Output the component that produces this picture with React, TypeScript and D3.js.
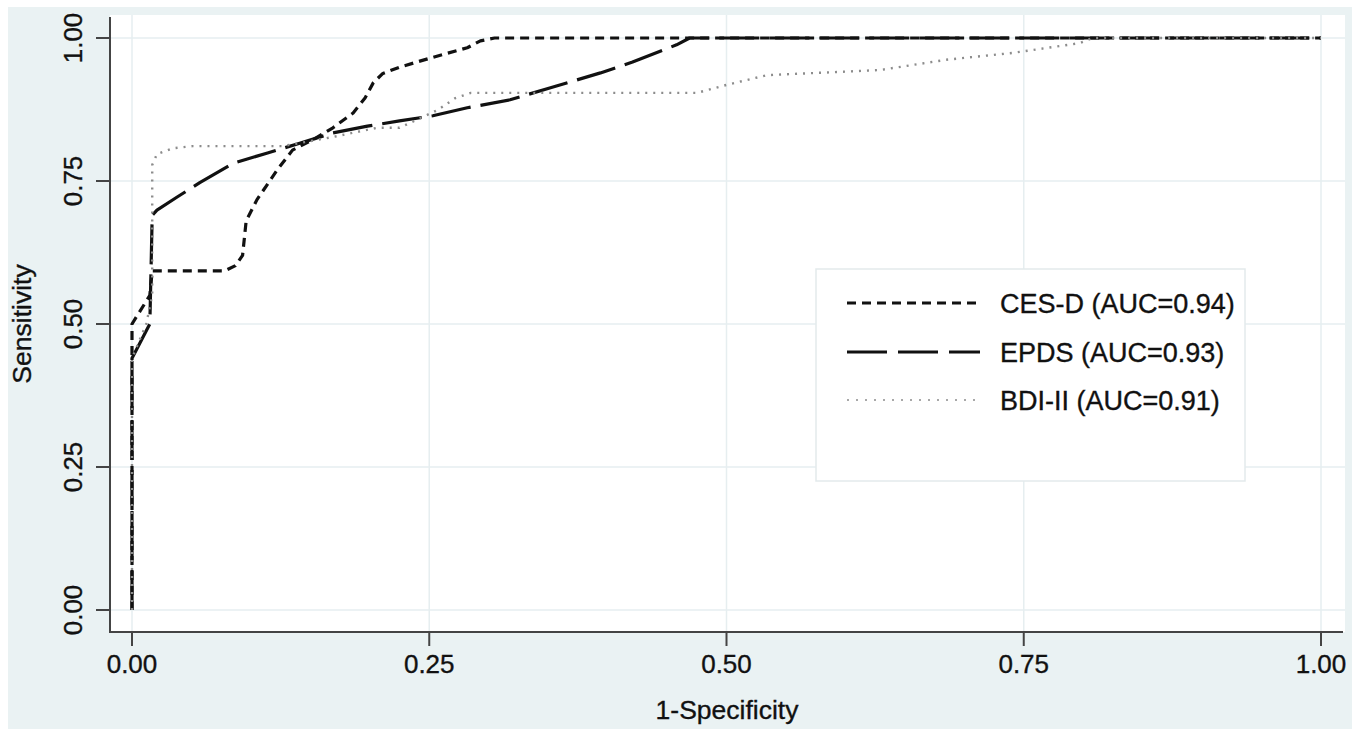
import React from "react";
import * as d3 from "d3";

// ROC curves: [1-specificity, sensitivity]
const cesdPoints: [number, number][] = [
  [0, 0], [0, 0.5], [0.015, 0.55], [0.017, 0.593], [0.078, 0.593], [0.087, 0.602],
  [0.093, 0.62], [0.096, 0.68], [0.105, 0.717], [0.122, 0.769], [0.135, 0.804],
  [0.152, 0.822], [0.169, 0.843], [0.186, 0.869], [0.196, 0.895], [0.203, 0.922],
  [0.211, 0.938], [0.225, 0.949], [0.251, 0.965], [0.282, 0.983], [0.293, 0.995],
  [0.305, 1.0], [1, 1],
];

const epdsPoints: [number, number][] = [
  [0, 0], [0, 0.44], [0.015, 0.5], [0.017, 0.69], [0.021, 0.699], [0.038, 0.722],
  [0.057, 0.747], [0.085, 0.781], [0.114, 0.799], [0.141, 0.816], [0.169, 0.834],
  [0.198, 0.846], [0.225, 0.855], [0.253, 0.864], [0.282, 0.878], [0.318, 0.892],
  [0.352, 0.913], [0.394, 0.939], [0.421, 0.958], [0.458, 0.988], [0.469, 1.0], [1, 1],
];

const bdiPoints: [number, number][] = [
  [0, 0], [0, 0.44], [0.012, 0.5], [0.017, 0.55], [0.017, 0.778], [0.021, 0.797],
  [0.034, 0.807], [0.051, 0.811], [0.127, 0.811], [0.169, 0.827], [0.206, 0.843],
  [0.225, 0.843], [0.257, 0.874], [0.272, 0.895], [0.285, 0.904], [0.475, 0.904],
  [0.5, 0.918], [0.534, 0.935], [0.629, 0.944], [0.685, 0.962], [0.741, 0.974],
  [0.797, 0.991], [0.808, 1.0], [1, 1],
];

const seriesLabels = ["CES-D (AUC=0.94)", "EPDS (AUC=0.93)", "BDI-II (AUC=0.91)"];
const xTicks = [0, 0.25, 0.5, 0.75, 1];
const yTicks = [0, 0.25, 0.5, 0.75, 1];

const W = 1369;
const H = 733;
const FONT = "'Liberation Sans', Arial, Helvetica, sans-serif";
const INK = "#111";

const App = () => {
  const x = d3.scaleLinear().domain([0, 1]).range([132, 1321]);
  const y = d3.scaleLinear().domain([0, 1]).range([610, 38]);
  const fmt = d3.format(".2f");

  const line = d3
    .line<[number, number]>()
    .x((d) => x(d[0]))
    .y((d) => y(d[1]))
    .curve(d3.curveLinear);

  // styles per series (stata-like patterns)
  const styles = [
    { stroke: "#111", width: 3.2, dash: "9 6", legendDash: "9 6", legendWidth: 3 },
    { stroke: "#111", width: 3.2, dash: "40 10", legendDash: "40 11", legendWidth: 3 },
    { stroke: "#8c8c8c", width: 2.4, dash: "2 6", legendDash: "2 7", legendWidth: 1.6 },
  ];
  const series = [cesdPoints, epdsPoints, bdiPoints];

  const legendRows = [303, 352, 400];

  const textProps = {
    fontFamily: FONT,
    fill: INK,
    stroke: INK,
    strokeWidth: 0.35,
  };

  return (
    <svg
      width={W}
      height={H}
      style={{ position: "absolute", left: 0, top: 0, background: "#fff" }}
    >
      {/* graph region */}
      <rect x={8} y={7} width={1344} height={722} fill="#eaf2f3" />
      {/* plot region */}
      <rect x={110} y={15} width={1235} height={617} fill="#fff" />

      {/* grid */}
      {xTicks.map((t) => (
        <line key={"gx" + t} x1={x(t)} x2={x(t)} y1={15} y2={632} stroke="#e6eef0" strokeWidth={1.5} />
      ))}
      {yTicks.map((t) => (
        <line key={"gy" + t} x1={110} x2={1345} y1={y(t)} y2={y(t)} stroke="#e6eef0" strokeWidth={1.5} />
      ))}

      {/* legend box */}
      <rect x={816} y={269} width={429} height={212} fill="#fff" stroke="#e3eaec" strokeWidth={1.5} />
      {styles.map((s, i) => (
        <g key={"lg" + i}>
          <line
            x1={847}
            x2={980}
            y1={legendRows[i]}
            y2={legendRows[i]}
            stroke={s.stroke}
            strokeWidth={s.legendWidth}
            strokeDasharray={s.legendDash}
          />
          <text x={1000} y={legendRows[i] + 10} fontSize={27} {...textProps}>
            {seriesLabels[i]}
          </text>
        </g>
      ))}

      {/* curves */}
      {series.map((pts, i) => (
        <path
          key={"s" + i}
          d={line(pts) || ""}
          fill="none"
          stroke={styles[i].stroke}
          strokeWidth={styles[i].width}
          strokeDasharray={styles[i].dash}
          strokeLinejoin="round"
        />
      ))}

      {/* axes */}
      <line x1={110} x2={110} y1={17} y2={633} stroke="#444" strokeWidth={2} />
      <line x1={109} x2={1343} y1={632} y2={632} stroke="#444" strokeWidth={2} />
      {xTicks.map((t) => (
        <g key={"xt" + t}>
          <line x1={x(t)} x2={x(t)} y1={632} y2={646} stroke="#444" strokeWidth={2} />
          <text x={x(t)} y={673} textAnchor="middle" fontSize={26} {...textProps}>
            {fmt(t)}
          </text>
        </g>
      ))}
      {yTicks.map((t) => (
        <g key={"yt" + t}>
          <line x1={96} x2={110} y1={y(t)} y2={y(t)} stroke="#444" strokeWidth={2} />
          <text
            transform={`translate(82,${y(t)}) rotate(-90)`}
            textAnchor="middle"
            fontSize={26}
            {...textProps}
          >
            {fmt(t)}
          </text>
        </g>
      ))}

      {/* axis titles */}
      <text x={727} y={719} textAnchor="middle" fontSize={26.5} {...textProps}>
        1-Specificity
      </text>
      <text
        transform="translate(31,324) rotate(-90)"
        textAnchor="middle"
        fontSize={26.5}
        {...textProps}
      >
        Sensitivity
      </text>
    </svg>
  );
};

export default App;
